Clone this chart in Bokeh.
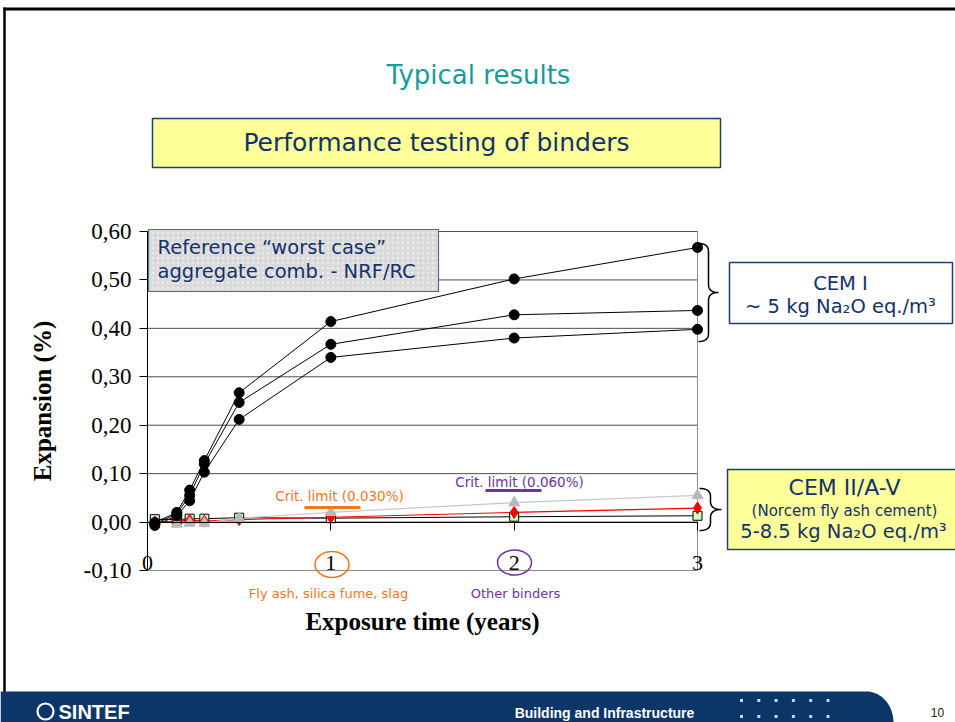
import numpy as np
from bokeh.plotting import figure
from bokeh.models import Range1d, LinearAxis, FixedTicker, CustomJSTickFormatter
from bokeh.core.properties import value
from bokeh.embed import file_html
from bokeh.resources import INLINE

# ---------------- data ----------------
TIMES = [0.04, 0.16, 0.23, 0.31, 0.5, 1, 2, 3]
CEM1_A = [-0.001, 0.020, 0.066, 0.127, 0.267, 0.414, 0.502, 0.567]
CEM1_B = [-0.004, 0.017, 0.055, 0.120, 0.247, 0.367, 0.428, 0.437]
CEM1_C = [-0.007, 0.013, 0.044, 0.103, 0.212, 0.340, 0.380, 0.398]
TIMES_GRAY = [0.16, 0.23, 0.31, 0.5, 1, 2, 3]
CEM2_GRAY = [-0.004, -0.002, -0.002, 0.008, 0.020, 0.040, 0.055]
CEM2_RED = [0.000, 0.002, 0.004, 0.002, 0.005, 0.010, 0.020, 0.029]
CEM2_SQ = [0.006, 0.005, 0.007, 0.007, 0.009, 0.008, 0.011, 0.013]

Y_TICKS = [-0.1, 0.0, 0.1, 0.2, 0.3, 0.4, 0.5, 0.6]
Y_TICK_LABELS = ["-0,10", "0,00", "0,10", "0,20", "0,30", "0,40", "0,50", "0,60"]
X_TICKS = [0, 1, 2, 3]
X_TICK_LABELS = ["0", "1", "2", "3"]

# ---------------- layout constants (page pixels) ----------------
W, H, OFF = 955, 722, 0
X0_PG, X3_PG = 147.0, 697.0
YTOP_PG, YBOT_PG = 231.0, 570.0
X_MIN, X_MAX = X_TICKS[0], X_TICKS[-1]
Y_MIN, Y_MAX = Y_TICKS[0], Y_TICKS[-1]

sx = (X3_PG - X0_PG) / (X_MAX - X_MIN)
sy = (YBOT_PG - YTOP_PG) / (Y_MAX - Y_MIN)


def pg_to_y(py):
    return Y_MAX - (py - YTOP_PG) / sy


p = figure(width=W, height=H,
           x_range=Range1d(X_MIN + (OFF - X0_PG) / sx, X_MIN + (OFF + W - X0_PG) / sx),
           y_range=Range1d(Y_MAX - (OFF + H - YTOP_PG) / sy, Y_MAX + (YTOP_PG - OFF) / sy),
           x_axis_type=None, y_axis_type=None,
           toolbar_location=None, output_backend="svg", min_border=0)
p.outline_line_color = None
p.background_fill_color = "white"
p.border_fill_color = "white"
p.extra_x_ranges = {"px": Range1d(OFF, OFF + W)}
p.extra_y_ranges = {"py": Range1d(OFF + H, OFF)}
PG = dict(x_range_name="px", y_range_name="py")

COMIC = value("DejaVu Sans")
NAVY = "#12326b"
ORANGE = "#f5761a"
PURPLE = "#7030a0"

# ---------------- gridlines / frame ----------------
grid_colors = ["#8c8c8c"] + ["#4d4d4d"] * (len(Y_TICKS) - 1)
p.segment(x0=[X_MIN] * len(Y_TICKS), x1=[X_MAX] * len(Y_TICKS), y0=Y_TICKS, y1=Y_TICKS,
          line_color=grid_colors, line_width=1)
p.segment(x0=[X_MAX], x1=[X_MAX], y0=[Y_MIN], y1=[Y_MAX], line_color="#8c8c8c", line_width=1)

# ---------------- axes ----------------
FMT_CODE = """
const i = tvals.findIndex(t => Math.abs(t - tick) < 1e-9);
return i >= 0 ? tlabels[i] : '';
"""
ylab_fmt = CustomJSTickFormatter(args=dict(tvals=Y_TICKS, tlabels=Y_TICK_LABELS), code=FMT_CODE)
xlab_fmt = CustomJSTickFormatter(args=dict(tvals=X_TICKS, tlabels=X_TICK_LABELS), code=FMT_CODE)

yax = LinearAxis(fixed_location=X_MIN, bounds=(Y_MIN, Y_MAX),
                 ticker=FixedTicker(ticks=Y_TICKS), formatter=ylab_fmt,
                 axis_label="Expansion (%)",
                 axis_line_color="black", major_tick_line_color="black",
                 major_tick_out=8, major_tick_in=0, minor_tick_line_color=None,
                 major_label_standoff=8,
                 major_label_text_font="Liberation Serif", major_label_text_font_size="23px",
                 major_label_text_color="black",
                 axis_label_text_font="Liberation Serif", axis_label_text_font_size="25px",
                 axis_label_text_font_style="bold", axis_label_text_color="black",
                 axis_label_standoff=25)
p.add_layout(yax, "left")

xax_line = LinearAxis(fixed_location=0, bounds=(X_MIN, X_MAX),
                      ticker=FixedTicker(ticks=X_TICKS), formatter=xlab_fmt,
                      axis_line_color="black", major_tick_line_color="black",
                      major_tick_out=8, major_tick_in=0, minor_tick_line_color=None,
                      major_label_text_color=None)
p.add_layout(xax_line, "below")

xax_lab = LinearAxis(fixed_location=pg_to_y(555), bounds=(X_MIN, X_MAX),
                     ticker=FixedTicker(ticks=X_TICKS), formatter=xlab_fmt,
                     axis_line_color=None, major_tick_line_color=None, minor_tick_line_color=None,
                     major_tick_out=0, major_tick_in=0, major_label_standoff=0,
                     major_label_text_font="Liberation Serif", major_label_text_font_size="22px",
                     major_label_text_color="black",
                     axis_label="Exposure time (years)",
                     axis_label_text_font="Liberation Serif", axis_label_text_font_size="25px",
                     axis_label_text_font_style="bold", axis_label_text_color="black",
                     axis_label_standoff=35)
p.add_layout(xax_lab, "below")

# ---------------- series ----------------
p.line(TIMES, CEM2_SQ, line_color="black", line_width=1)
p.line(TIMES, CEM2_RED, line_color="red", line_width=1.2)
p.line(TIMES_GRAY, CEM2_GRAY, line_color="#c8c8c8", line_width=1.2)
p.scatter(TIMES, CEM2_SQ, marker="square", size=9, fill_color="#ccffcc", line_color="black")
p.scatter(TIMES, CEM2_RED, marker="diamond", size=12, fill_color="red", line_color="red")
p.scatter(TIMES_GRAY, CEM2_GRAY, marker="triangle", size=11, fill_color="#b8b8b8", line_color="#b8b8b8")
for ser in (CEM1_A, CEM1_B, CEM1_C):
    p.line(TIMES, ser, line_color="black", line_width=1)
    p.scatter(TIMES, ser, marker="circle", size=10, fill_color="black", line_color="black")

# ---------------- slide decorations (page pixel coordinates) ----------------
# slide border
p.segment(x0=[3], x1=[W], y0=[8.5], y1=[8.5], line_color="black", line_width=3, **PG)
p.segment(x0=[4], x1=[4], y0=[7], y1=[H], line_color="black", line_width=2.5, **PG)

# title
p.text(x=[478], y=[74], text=["Typical results"], text_font=COMIC, text_font_size=value("26px"),
       text_color="#169c9c", text_align="center", text_baseline="middle", **PG)

# yellow heading box
p.quad(left=[152], right=[720], top=[118], bottom=[167], fill_color="#ffff99",
       line_color="#1f3f6f", line_width=1.5, **PG)
p.text(x=[436], y=[142], text=["Performance testing of binders"], text_font=COMIC,
       text_font_size=value("25px"), text_color=NAVY, text_align="center",
       text_baseline="middle", **PG)

# reference box
p.quad(left=[148], right=[438], top=[229], bottom=[291], fill_color="#dadada",
       hatch_pattern="dot", hatch_color="#f2f2f2", hatch_scale=5, hatch_alpha=0.8,
       line_color="#4a6a90", line_width=1.2, **PG)
p.text(x=[157, 157], y=[247, 271], text=["Reference \u201cworst case\u201d", "aggregate comb. - NRF/RC"],
       text_font=COMIC, text_font_size=value("19.5px"), text_color=NAVY,
       text_align="left", text_baseline="middle", **PG)

# CEM I box
p.quad(left=[729], right=[952], top=[262], bottom=[323], fill_color="white",
       line_color="#1f3f6f", line_width=1.5, **PG)
p.text(x=[840, 840], y=[283, 306], text=["CEM I", "~ 5 kg Na\u2082O eq./m\u00b3"],
       text_font=COMIC, text_font_size=value("19.5px"), text_color=NAVY,
       text_align="center", text_baseline="middle", **PG)

# CEM II box
p.quad(left=[727], right=[962], top=[469], bottom=[549], fill_color="#ffff99",
       line_color="#1f3f6f", line_width=1.5, **PG)
p.text(x=[844], y=[487], text=["CEM II/A-V"], text_font=COMIC, text_font_size=value("22px"),
       text_color=NAVY, text_align="center", text_baseline="middle", **PG)
p.text(x=[844], y=[510], text=["(Norcem fly ash cement)"], text_font=COMIC,
       text_font_size=value("15px"), text_color=NAVY, text_align="center",
       text_baseline="middle", **PG)
p.text(x=[843], y=[531], text=["5-8.5 kg Na\u2082O eq./m\u00b3"], text_font=COMIC,
       text_font_size=value("19.5px"), text_color=NAVY, text_align="center",
       text_baseline="middle", **PG)


# braces
def brace(x0, x1, yt, yb, ym):
    xm = (x0 + x1) / 2.0
    r = min(8.0, (yb - yt) / 5.0)
    t = np.linspace(0, 1, 12)

    def quad_pts(a, c, b):
        xs = (1 - t) ** 2 * a[0] + 2 * (1 - t) * t * c[0] + t ** 2 * b[0]
        ys = (1 - t) ** 2 * a[1] + 2 * (1 - t) * t * c[1] + t ** 2 * b[1]
        return list(xs), list(ys)

    X, Y = [], []
    for a, c, b in [((x0, yt), (xm, yt), (xm, yt + r)),
                    ((xm, ym - r), (xm, ym), (x1, ym)),
                    ((x1, ym), (xm, ym), (xm, ym + r)),
                    ((xm, yb - r), (xm, yb), (x0, yb))]:
        xs, ys = quad_pts(a, c, b)
        X += xs
        Y += ys
    return X, Y


for args in [(698, 718, 243, 341, 292), (699, 721, 488, 530, 509)]:
    bx, by = brace(*args)
    p.line(bx, by, line_color="black", line_width=1.5, **PG)

# critical limit notes
p.text(x=[339], y=[495], text=["Crit. limit (0.030%)"], text_font=COMIC, text_font_size=value("13.5px"),
       text_color=ORANGE, text_align="center", text_baseline="middle", **PG)
p.segment(x0=[304], x1=[360], y0=[507], y1=[507], line_color=ORANGE, line_width=3, **PG)
p.text(x=[519], y=[481], text=["Crit. limit (0.060%)"], text_font=COMIC, text_font_size=value("13.5px"),
       text_color=PURPLE, text_align="center", text_baseline="middle", **PG)
p.segment(x0=[485], x1=[541], y0=[490], y1=[490], line_color=PURPLE, line_width=3, **PG)

# circled ticks and notes
p.ellipse(x=[331.5], y=[564], width=[34], height=[26], fill_color=None, line_color=ORANGE,
          line_width=1.5, **PG)
p.ellipse(x=[514], y=[562], width=[34], height=[25], fill_color=None, line_color=PURPLE,
          line_width=1.5, **PG)
p.text(x=[328], y=[593], text=["Fly ash, silica fume, slag"], text_font=COMIC,
       text_font_size=value("13px"), text_color=ORANGE, text_align="center",
       text_baseline="middle", **PG)
p.text(x=[515], y=[593], text=["Other binders"], text_font=COMIC,
       text_font_size=value("13px"), text_color=PURPLE, text_align="center",
       text_baseline="middle", **PG)

# footer band
th = np.linspace(np.pi / 2, 0, 20)
fx = [0] + list(866 + 27 * np.cos(th)) + [893, 0]
fy = [691] + list(722 - 31 * np.sin(th)) + [722, 722]
p.patch(fx, fy, fill_color="#0c3667", line_color=None, **PG)
p.scatter(x=[45], y=[711], marker="circle", size=16, fill_color=None, line_color="white",
          line_width=2.2, **PG)
p.text(x=[58], y=[711], text=["SINTEF"], text_font=value("Liberation Sans"),
       text_font_style="bold", text_font_size=value("20px"), text_color="white",
       text_align="left", text_baseline="middle", **PG)
p.text(x=[604], y=[712], text=["Building and Infrastructure"], text_font=value("Liberation Sans"),
       text_font_style="bold", text_font_size=value("14px"), text_color="white",
       text_align="center", text_baseline="middle", **PG)
dx = [741 + 17.3 * i for i in range(6)] * 2
dy = [700] * 6 + [716] * 6
p.scatter(x=dx, y=dy, marker="square", size=3, fill_color="#c9d5e8", line_color=None, **PG)
p.text(x=[937], y=[712], text=["10"], text_font=value("Liberation Sans"),
       text_font_size=value("12px"), text_color="#222222", text_align="center",
       text_baseline="middle", **PG)

open("out.html", "w").write(file_html(p, INLINE))
